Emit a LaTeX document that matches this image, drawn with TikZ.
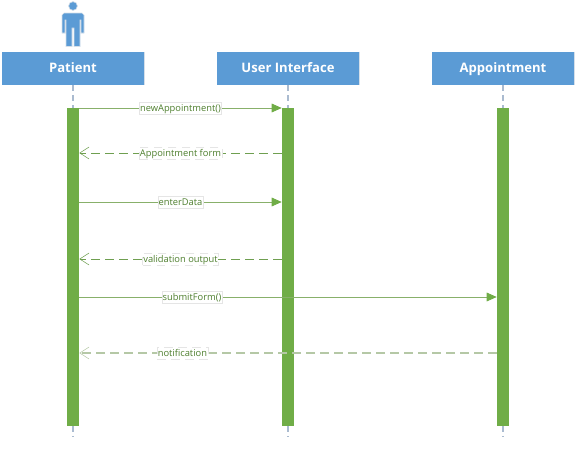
\documentclass[tikz,border=0pt]{standalone}
\usepackage{fontspec}
\setmainfont{Open Sans}
\usetikzlibrary{arrows.meta}
\definecolor{boxblue}{HTML}{5B9BD5}
\definecolor{barshadow}{HTML}{D5DFE9}
\definecolor{barblue}{HTML}{AABBD0}
\definecolor{bargreen}{HTML}{70AD47}
\definecolor{msggreen}{HTML}{88B06A}
\definecolor{replygreen}{HTML}{6F9F50}
\definecolor{palegreen}{HTML}{B5C8A6}
\definecolor{labelgreen}{HTML}{4E7F2E}
\tikzset{
    headerbox/.style={fill=boxblue, text=white, minimum width=142*0.75pt, minimum height=33*0.75pt, inner sep=0pt, text height=8.2pt, text depth=1.6pt, font=\fontsize{9.8}{12}\selectfont\bfseries},
    lifebar/.style={fill=bargreen, minimum width=12*0.75pt, minimum height=318*0.75pt, inner sep=0pt},
    lifeline/.style={draw=barblue, line width=0.9pt, dash pattern=on 4pt off 3.5pt},
    boxedge/.style={draw=barshadow, line width=0.9pt},
    callmsg/.style={draw=msggreen, line width=0.7pt, -{Triangle[length=7.5pt, width=6.5pt, fill=bargreen, color=bargreen]}},
    replymsg/.style={draw=replygreen, line width=0.7pt, dash pattern=on 6.5pt off 4pt, -{Straight Barb[length=7pt, width=9pt, line width=0.4pt]}},
    msglabel/.style={fill=white, draw=black!10, line width=0.4pt, text=labelgreen, inner xsep=0.6pt, inner ysep=1pt, text height=6pt, text depth=1pt, font=\fontsize{7}{8}\selectfont}
}
\begin{document}
\begin{tikzpicture}[x=0.75pt, y=-0.75pt]
    \useasboundingbox (0,0) rectangle (578,461);
    % Person above the first column
    \fill[boxblue, draw=barshadow, line width=0.5pt] (73,6) circle (4.4);
    \fill[boxblue, draw=barshadow, line width=0.5pt] (64,13) -- (82,13) -- (84,15) -- (84,33) -- (81,33) -- (81,20) -- (80,20) -- (80,46.5) -- (74,46.5) -- (74,28) -- (72,28) -- (72,46.5) -- (66,46.5) -- (66,20) -- (65,20) -- (65,33) -- (62,33) -- (62,15) -- cycle;
    % Column headers
    \node[headerbox] (patient) at (73,68.5) {Patient};
    \node[headerbox] (ui) at (288,68.5) {User Interface};
    \node[headerbox] (appointment) at (503,68.5) {Appointment};
    \draw[boxedge] (patient.north east) -- (patient.south east);
    \draw[boxedge] (ui.north east) -- (ui.south east);
    \draw[boxedge] (appointment.north east) -- (appointment.south east);
    % Activation bars
    \node[lifebar] (patientbar) at (73,267) {};
    \node[lifebar] (uibar) at (288,267) {};
    \node[lifebar] (appointmentbar) at (503,267) {};
    % Lifelines
    \coordinate (patientend) at (73,437);
    \coordinate (uiend) at (288,437);
    \coordinate (appointmentend) at (503,437);
    \draw[lifeline] (patient.south) -- (patientbar.north);
    \draw[lifeline] (ui.south) -- (uibar.north);
    \draw[lifeline] (appointment.south) -- (appointmentbar.north);
    \draw[lifeline] (patientbar.south) -- (patientend);
    \draw[lifeline] (uibar.south) -- (uiend);
    \draw[lifeline] (appointmentbar.south) -- (appointmentend);
    % Message rows
    \coordinate (row1) at (0,108);
    \coordinate (row2) at (0,153);
    \coordinate (row3) at (0,202);
    \coordinate (row4) at (0,259);
    \coordinate (row5) at (0,297);
    \coordinate (row6) at (0,353);
    % Messages
    \draw[callmsg] (patientbar.east |- row1) -- node[msglabel] (msg1) {newAppointment()} (uibar.west |- row1);
    \draw[replymsg] (uibar.west |- row2) -- node[msglabel] (msg2) {Appointment form} (patientbar.east |- row2);
    \draw[callmsg] (patientbar.east |- row3) -- node[msglabel] (msg3) {enterData} (uibar.west |- row3);
    \draw[replymsg] (uibar.west |- row4) -- node[msglabel] (msg4) {validation output} (patientbar.east |- row4);
    \draw[callmsg] (patientbar.east |- row5) -- node[msglabel, pos=0.27] (msg5) {submitForm()} (appointmentbar.west |- row5);
    \draw[replymsg, draw=palegreen, line width=0.9pt] (appointmentbar.west |- row6) -- node[msglabel, pos=0.753] (msg6) {notification} (patientbar.east |- row6);
\end{tikzpicture}
\end{document}
